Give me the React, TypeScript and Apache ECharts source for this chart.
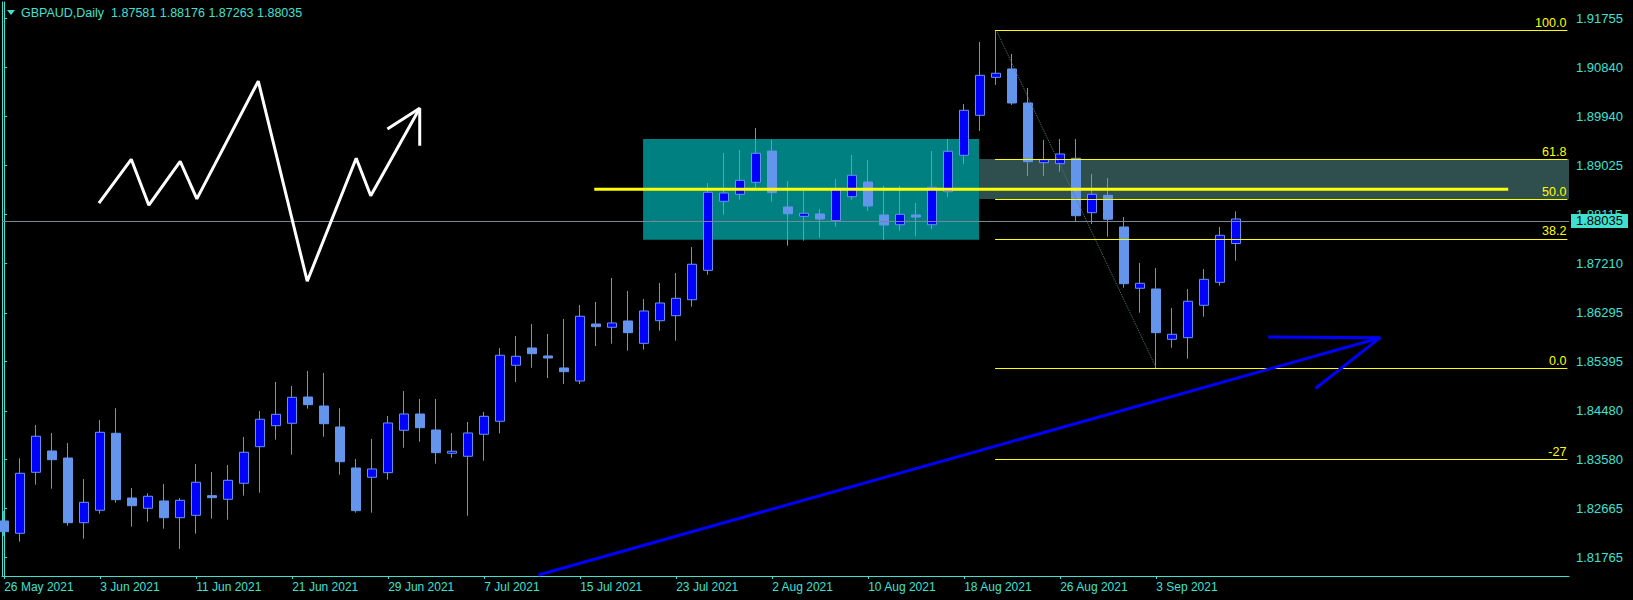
import React, { useEffect, useRef } from "react";
import * as echarts from "echarts";

// ---------- data ----------
const symbolName = "GBPAUD";
const timeframe = "Daily";

const opens = [
  1.82438, 1.8221, 1.8334, 1.83735, 1.83605, 1.82406, 1.82636, 1.84063, 1.82864, 1.82673,
  1.82809, 1.82499, 1.82543, 1.82907, 1.8284, 1.83137, 1.83815, 1.84204, 1.84249, 1.84736,
  1.84569, 1.8418, 1.8342, 1.83248, 1.83333, 1.84119, 1.84421, 1.84124, 1.83693, 1.83637,
  1.84045, 1.84286, 1.85324, 1.85644, 1.85496, 1.85274, 1.85033, 1.86089, 1.86028, 1.86145,
  1.85731, 1.8615, 1.86243, 1.86539, 1.87084, 1.88363, 1.88493, 1.88715, 1.89295, 1.88258,
  1.88085, 1.88128, 1.88004, 1.88448, 1.88721, 1.88109, 1.87929, 1.88109, 1.87929, 1.88541,
  1.89216, 1.89957, 1.90661, 1.90815, 1.90185, 1.89079, 1.8906, 1.8916, 1.88152, 1.88474,
  1.87887, 1.86751, 1.86738, 1.85805, 1.85835, 1.86436, 1.86862, 1.87581,
];
const closes = [
  1.8224, 1.83322, 1.84008, 1.83574, 1.82406, 1.82784, 1.84082, 1.82833, 1.82721, 1.82896,
  1.82499, 1.82821, 1.83155, 1.8287, 1.83192, 1.83711, 1.84323, 1.84415, 1.8473, 1.84593,
  1.84241, 1.83537, 1.82629, 1.83402, 1.84254, 1.84421, 1.84167, 1.83704, 1.8373, 1.84069,
  1.84378, 1.85509, 1.8549, 1.85539, 1.85459, 1.85205, 1.86232, 1.86039, 1.86108, 1.85928,
  1.8633, 1.86478, 1.86565, 1.87196, 1.8853, 1.88517, 1.88752, 1.89253, 1.88523, 1.88133,
  1.88141, 1.88035, 1.88578, 1.88845, 1.88276, 1.87924, 1.88122, 1.88072, 1.88623, 1.8929,
  1.9005, 1.90698, 1.90736, 1.90185, 1.89097, 1.89134, 1.8924, 1.88096, 1.88493, 1.8803,
  1.86836, 1.86843, 1.85928, 1.85898, 1.8651, 1.86917, 1.87733, 1.88035,
];
const lows = [
  1.8216, 1.82054, 1.83111, 1.83036, 1.82351, 1.8211, 1.82573, 1.82777, 1.82332, 1.82425,
  1.82295, 1.81919, 1.82202, 1.8248, 1.82462, 1.82907, 1.82962, 1.83945, 1.83667, 1.84519,
  1.84, 1.83296, 1.82592, 1.82592, 1.83203, 1.83796, 1.83908, 1.835, 1.83611, 1.82536,
  1.83555, 1.84063, 1.85014, 1.85279, 1.85088, 1.84977, 1.84977, 1.85681, 1.85724, 1.85594,
  1.85613, 1.85965, 1.8578, 1.8641, 1.87003, 1.88115, 1.88393, 1.88604, 1.88356, 1.8754,
  1.87633, 1.87689, 1.87892, 1.88393, 1.88183, 1.87646, 1.87818, 1.8772, 1.8785, 1.88443,
  1.89054, 1.89666, 1.90519, 1.90148, 1.88832, 1.88832, 1.88912, 1.87985, 1.87942, 1.87707,
  1.86762, 1.86298, 1.85273, 1.8565, 1.85446, 1.86224, 1.86799, 1.87263,
];
const highs = [
  1.82623, 1.836, 1.84217, 1.84069, 1.83883, 1.83216, 1.8431, 1.84527, 1.83049, 1.82951,
  1.83124, 1.82864, 1.83494, 1.83346, 1.83476, 1.83995, 1.84477, 1.85014, 1.8494, 1.85218,
  1.85181, 1.84527, 1.83587, 1.83958, 1.84384, 1.84847, 1.84699, 1.84699, 1.84069, 1.84273,
  1.84458, 1.85644, 1.85867, 1.86089, 1.85904, 1.86182, 1.86441, 1.86497, 1.86942, 1.86701,
  1.86552, 1.86849, 1.87034, 1.87516, 1.88702, 1.89258, 1.89314, 1.89722, 1.89499, 1.88739,
  1.8856, 1.8822, 1.88776, 1.89221, 1.89129, 1.88647, 1.88647, 1.88332, 1.89295, 1.89518,
  1.90167, 1.91316, 1.91538, 1.91093, 1.90463, 1.89499, 1.89518, 1.89518, 1.88869, 1.88795,
  1.88072, 1.8722, 1.87127, 1.86386, 1.86738, 1.87108, 1.87887, 1.88176,
];

const xTickIndices = [0, 6, 12, 18, 24, 30, 36, 42, 48, 54, 60, 66, 72];
const xTickLabels = [
  "26 May 2021", "3 Jun 2021", "11 Jun 2021", "21 Jun 2021", "29 Jun 2021", "7 Jul 2021",
  "15 Jul 2021", "23 Jul 2021", "2 Aug 2021", "10 Aug 2021", "18 Aug 2021", "26 Aug 2021", "3 Sep 2021",
];
const yTickValues = [
  1.91755, 1.9084, 1.8994, 1.89025, 1.88115, 1.8721, 1.86295, 1.85395, 1.8448, 1.8358, 1.82665, 1.81765,
];

// axis ranges (bar index / price)
const xMin = -0.1375;
const xMax = 97.8;
const yMin = 1.81418;
const yMax = 1.92057;

// Fibonacci retracement
const fibHighBar = 62;
const fibLowBar = 72;
const fibHigh = 1.91538;
const fibLow = 1.85273;
const fibStartBar = 61.93;
const fibEndBar = 97.7;
const fibRatios = [1, 0.618, 0.5, 0.382, 0, -0.27];
const fibLabels = ["100.0", "61.8", "50.0", "38.2", "0.0", "-27"];

// teal consolidation box
const boxBars = [39.93, 60.93];
const boxPrices = [1.89518, 1.87651];

// yellow horizontal level
const levelBars = [36.88, 94.0];
const levelPrice = 1.88585;

// white zig-zag sketch
const zigBars = [5.92, 7.94, 9.04, 11.0, 12.04, 15.88, 18.94, 22.0, 22.91, 25.97];
const zigPrices = [1.8833, 1.89142, 1.88291, 1.89103, 1.88408, 1.90589, 1.86882, 1.8916, 1.88465, 1.90087];
const zigHeadBars = [23.95, 25.97, 25.97];
const zigHeadPrices = [1.89701, 1.90087, 1.89392];

// blue trend line with arrow
const trendBars = [33.39, 86.0];
const trendPrices = [1.81437, 1.85835];
const arrowBars = [79.0, 86.0, 81.95];
const arrowPrices = [1.85848, 1.85835, 1.84894];

// ---------- styles ----------
const TURQ = "#40E0D0";
const BULL_FILL = "#0000FF";
const BEAR_FILL = "#6495ED";
const YELLOW = "#FFFF00";
const FONT = "Liberation Sans";

const zip = (xs: number[], ys: number[]) => xs.map((x, i) => [x, ys[i]]);

export default function App() {
  const ref = useRef<HTMLDivElement>(null);

  useEffect(() => {
    if (!ref.current) return;
    const chart = echarts.init(ref.current, undefined, { renderer: "svg" });

    const candleData = opens.map((o, i) => [i, o, closes[i], lows[i], highs[i]]);
    const last = opens.length - 1;
    const titleText = `${symbolName},${timeframe}  ${opens[last].toFixed(5)} ${highs[last].toFixed(5)} ${lows[last].toFixed(5)} ${closes[last].toFixed(5)}`;
    const fibLevel = (r: number) => fibLow + (fibHigh - fibLow) * r;

    const lineBase = {
      type: "line" as const,
      symbol: "none",
      showSymbol: false,
      silent: true,
      animation: false,
    };

    const option: any = {
      animation: false,
      backgroundColor: "#000000",
      grid: { left: 2, top: 2, right: 64, bottom: 24, containLabel: false },
      xAxis: {
        type: "value",
        min: xMin,
        max: xMax,
        splitLine: { show: false },
        axisLine: { show: true, lineStyle: { color: TURQ, width: 1 } },
        axisTick: {
          show: true,
          customValues: xTickIndices,
          length: 3,
          lineStyle: { color: TURQ },
        },
        axisLabel: {
          customValues: xTickIndices,
          formatter: (v: number) => {
            const k = xTickIndices.indexOf(Math.round(v));
            return k >= 0 ? xTickLabels[k] : "";
          },
          align: "left",
          margin: 5,
          color: TURQ,
          fontSize: 12,
          fontFamily: FONT,
        },
      },
      yAxis: [
        {
          type: "value",
          position: "right",
          min: yMin,
          max: yMax,
          splitLine: { show: false },
          axisLine: { show: true, lineStyle: { color: TURQ, width: 1 } },
          axisTick: {
            show: true,
            customValues: yTickValues,
            length: 3,
            lineStyle: { color: TURQ },
          },
          axisLabel: {
            customValues: yTickValues,
            formatter: (v: number) => v.toFixed(5),
            margin: 7,
            color: TURQ,
            fontSize: 13,
            fontFamily: FONT,
          },
        },
        {
          type: "value",
          position: "left",
          min: yMin,
          max: yMax,
          splitLine: { show: false },
          axisLine: { show: true, lineStyle: { color: TURQ, width: 1 } },
          axisTick: { show: false },
          axisLabel: { show: false },
        },
      ],
      graphic: [
        {
          type: "polygon",
          shape: { points: [[7, 10], [15, 10], [11, 15]] },
          style: { fill: TURQ },
          silent: true,
        },
        {
          type: "text",
          x: 21,
          y: 13,
          style: {
            text: titleText,
            fill: TURQ,
            fontSize: 12.5,
            fontFamily: FONT,
            verticalAlign: "middle",
          },
          silent: true,
        },
      ],
      series: [
        {
          ...lineBase,
          name: "zones",
          z: 1,
          data: [[boxBars[0], boxPrices[0]]],
          lineStyle: { opacity: 0 },
          markArea: {
            silent: true,
            z: 1,
            label: { show: false },
            data: [
              [
                { coord: [boxBars[1], fibLevel(0.618)], itemStyle: { color: "#2F4F4F", opacity: 1 } },
                { coord: [xMax, fibLevel(0.5)] },
              ],
              [
                { coord: [boxBars[0], boxPrices[0]], itemStyle: { color: "#008080", opacity: 1 } },
                { coord: [boxBars[1], boxPrices[1]] },
              ],
            ],
          },
        },
        {
          type: "candlestick",
          name: symbolName,
          z: 3,
          silent: true,
          barWidth: 10,
          encode: { x: 0, y: [1, 2, 3, 4] },
          data: candleData,
          itemStyle: {
            color: BULL_FILL,
            color0: BEAR_FILL,
            borderColor: BEAR_FILL,
            borderColor0: BEAR_FILL,
            borderWidth: 1,
          },
          markLine: {
            silent: true,
            symbol: ["none", "none"],
            z: 4,
            lineStyle: { color: "#778899", width: 1, type: "solid" },
            label: {
              show: true,
              position: "end",
              distance: 2,
              formatter: () => closes[last].toFixed(5),
              backgroundColor: TURQ,
              color: "#000000",
              fontSize: 13,
              fontFamily: FONT,
              padding: [1, 5, 0, 5],
            },
            data: [{ yAxis: closes[last] }],
          },
        },
        {
          ...lineBase,
          name: "fib",
          z: 4,
          data: [[fibStartBar, fibHigh]],
          lineStyle: { opacity: 0 },
          markLine: {
            silent: true,
            symbol: ["none", "none"],
            lineStyle: { color: YELLOW, width: 1, type: "solid" },
            label: {
              show: true,
              position: "insideEndTop",
              distance: 1,
              formatter: "{b}",
              color: YELLOW,
              fontSize: 12.5,
              fontFamily: FONT,
            },
            data: fibRatios.map((r, k) => [
              { name: fibLabels[k], coord: [fibStartBar, fibLevel(r)] },
              { coord: [fibEndBar, fibLevel(r)] },
            ]),
          },
        },
        {
          ...lineBase,
          name: "fibTrend",
          z: 4,
          data: [[fibHighBar, fibHigh], [fibLowBar, fibLow]],
          lineStyle: { color: "#527878", width: 1, type: "dotted" },
        },
        {
          ...lineBase,
          name: "level",
          z: 5,
          data: zip(levelBars, [levelPrice, levelPrice]),
          lineStyle: { color: YELLOW, width: 3 },
        },
        {
          ...lineBase,
          name: "zigzag",
          z: 5,
          data: zip(zigBars, zigPrices),
          lineStyle: { color: "#FFFFFF", width: 3 },
        },
        {
          ...lineBase,
          name: "zigzagHead",
          z: 5,
          data: zip(zigHeadBars, zigHeadPrices),
          lineStyle: { color: "#FFFFFF", width: 3 },
        },
        {
          ...lineBase,
          name: "trend",
          z: 5,
          data: zip(trendBars, trendPrices),
          lineStyle: { color: "#0000FF", width: 3 },
        },
        {
          ...lineBase,
          name: "arrow",
          z: 5,
          data: zip(arrowBars, arrowPrices),
          lineStyle: { color: "#0000FF", width: 3 },
        },
      ],
    };

    chart.setOption(option);
    return () => chart.dispose();
  }, []);

  return (
    <div
      ref={ref}
      style={{ position: "fixed", left: 0, top: 0, width: 1633, height: 600, background: "#000" }}
    />
  );
}
